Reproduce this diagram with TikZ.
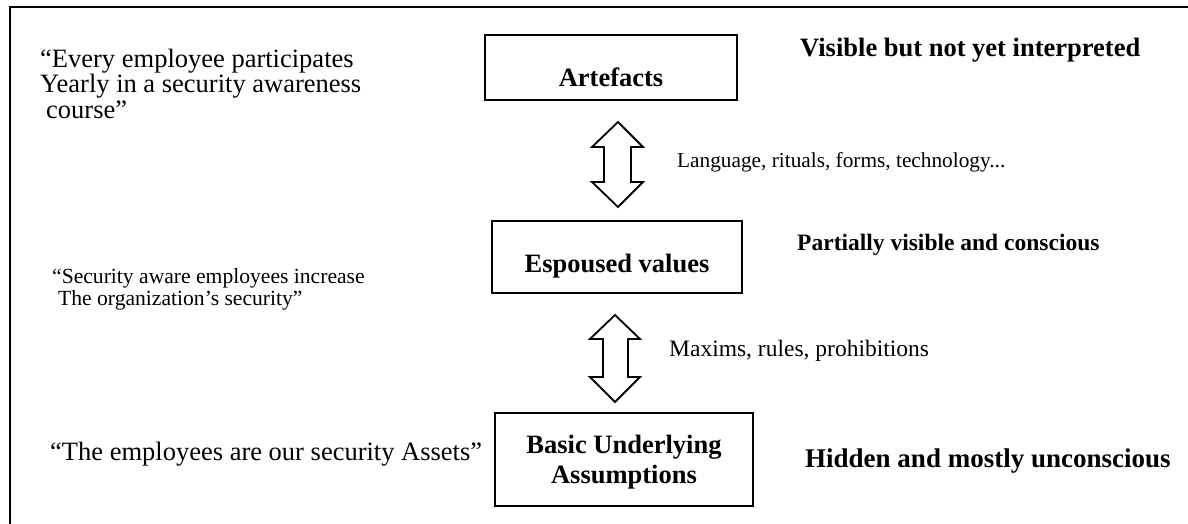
\documentclass[tikz,border=0pt]{standalone}
\usepackage{fontspec}
\setmainfont{Liberation Serif}
\begin{document}
\begin{tikzpicture}[x=1pt,y=-1pt,
  box/.style={draw, line width=2.2pt, inner sep=0pt},
  frameline/.style={line width=2pt},
  dblarrow/.style={draw, line width=1.8pt, line join=miter},
  lbl/.style={anchor=base west, inner sep=0pt},
  big/.style={font=\fontsize{26.5}{25}\selectfont},
  mid/.style={font=\fontsize{21.6}{22}\selectfont},
  btxt/.style={anchor=base, inner sep=0pt, font=\bfseries\fontsize{26.5}{30}\selectfont}]
\useasboundingbox (0,0) rectangle (1188,524);
\draw[frameline] (10,524) -- (10,7) -- (1188,7);

% boxes
\node[box, minimum width=252pt, minimum height=65pt] (art) at (611,67.5) {};
\node[box, minimum width=250pt, minimum height=72pt] (esp) at (617,257) {};
\node[box, minimum width=258pt, minimum height=93pt] (bua) at (624,459.5) {};
\node[btxt] (artT) at (611,87) {Artefacts};
\node[btxt] (espT) at (617,272) {Espoused values};
\node[btxt] (buaT1) at (624,453) {Basic Underlying};
\node[btxt] (buaT2) at (624,483) {Assumptions};

% double arrows
\coordinate (a1) at (618,164.5);
\coordinate (a2) at (615,358.5);
\draw[dblarrow, shift={(a1)}] (0,-42.5) -- (25,-17.5) -- (13,-17.5) -- (13,17.5) -- (25,17.5) -- (0,42.5) -- (-26,17.5) -- (-14,17.5) -- (-14,-17.5) -- (-26,-17.5) -- cycle;
\draw[dblarrow, shift={(a2)}] (0,-43.5) -- (25,-19.5) -- (13,-19.5) -- (13,18.5) -- (25,18.5) -- (0,43.5) -- (-25,18.5) -- (-12,18.5) -- (-12,-19.5) -- (-25,-19.5) -- cycle;

% left texts
\node[lbl, big] (q1a) at (40,68) {“Every employee participates};
\node[lbl, big] (q1b) at (40,93) {Yearly in a security awareness};
\node[lbl, big] (q1c) at (46,118) {course”};
\node[lbl, mid] (q2a) at (52,283) {“Security aware employees increase};
\node[lbl, mid] (q2b) at (58,305) {The organization’s security”};
\node[lbl, big] (q3) at (50,460) {“The employees are our security Assets”};

% right texts
\node[lbl, font=\bfseries\fontsize{26.5}{30}\selectfont] (r1) at (800,57) {Visible but not yet interpreted};
\node[lbl, font=\fontsize{21.3}{24}\selectfont] (m1) at (677,167) {Language, rituals, forms, technology...};
\node[lbl, font=\bfseries\fontsize{23.5}{26}\selectfont] (r2) at (797,250) {Partially visible and conscious};
\node[lbl, font=\fontsize{23.5}{26}\selectfont] (m2) at (669,356) {Maxims, rules, prohibitions};
\node[lbl, font=\bfseries\fontsize{27}{30}\selectfont] (r3) at (805,467) {Hidden and mostly unconscious};
\end{tikzpicture}
\end{document}
